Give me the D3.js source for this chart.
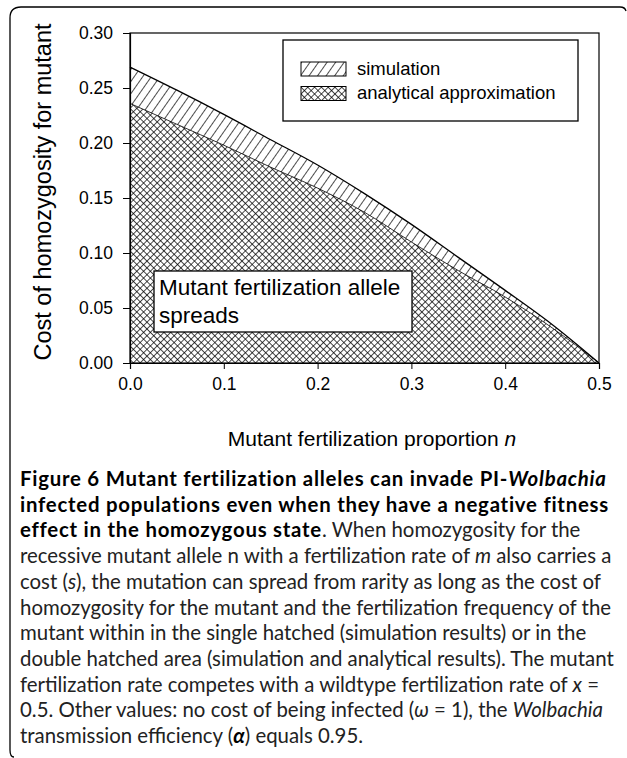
<!DOCTYPE html>
<html>
<head>
<meta charset="utf-8">
<script src="https://cdn.jsdelivr.net/npm/d3@7"></script>
<style>
  body { margin: 0; background: #fff; }
  svg { display: block; }
</style>
</head>
<body>
<div id="chart"></div>
<script>
// fertilization proportion n
const nValues = [0, 0.05, 0.10, 0.15, 0.20, 0.25, 0.30, 0.35, 0.40, 0.45, 0.50];
const simulation = [0.269, 0.248, 0.226, 0.203, 0.180, 0.154, 0.126, 0.096, 0.066, 0.035, 0];
const analytical = [0.236, 0.217, 0.198, 0.178, 0.159, 0.137, 0.110, 0.084, 0.060, 0.032, 0];
const xTicks = [0, 0.1, 0.2, 0.3, 0.4, 0.5];
const yTicks = [0, 0.05, 0.10, 0.15, 0.20, 0.25, 0.30];
const legendLabels = ['simulation', 'analytical approximation'];

const W = 627, H = 758;
const margin = {left: 130, top: 33, right: 28, bottom: 395};

const svg = d3.select('#chart').append('svg')
  .attr('width', W)
  .attr('height', H)

const defs = svg.append('defs')

// single hatch
const hatch = defs.append('pattern')
  .attr('id', 'hatch')
  .attr('patternUnits', 'userSpaceOnUse')
  .attr('width', 7).attr('height', 7)
  .attr('patternTransform', 'rotate(35)')
hatch.append('rect').attr('width', 7).attr('height', 7).attr('fill', '#fff')
hatch.append('line')
  .attr('x1', 0).attr('y1', 0).attr('x2', 0).attr('y2', 7)
  .attr('stroke', '#000').attr('stroke-width', 1.4)

// double hatch
const cross = defs.append('pattern')
  .attr('id', 'cross')
  .attr('patternUnits', 'userSpaceOnUse')
  .attr('width', 4.8).attr('height', 4.8)
  .attr('patternTransform', 'rotate(45)')
cross.append('rect').attr('width', 4.8).attr('height', 4.8).attr('fill', '#fff')
cross.append('path')
  .attr('d', 'M0,0H4.8M0,0V4.8')
  .attr('stroke', '#000').attr('stroke-width', 1.4)

// figure frame (rounded top-left / bottom-left)
svg.append('path')
  .attr('d', 'M14,757 Q10,757 10,750 L10,18 Q10,7 21,7 L620,7 Q625,7 626,11')
  .attr('fill', 'none')
  .attr('stroke', '#000')
  .attr('stroke-width', 1.3)

const g = svg.append('g')
  .attr('transform', 'translate(' + margin.left + ',' + margin.top + ')')

const width = W - margin.left - margin.right;   // 469
const height = H - margin.top - margin.bottom;  // 330

const x = d3.scaleLinear().domain([0, 0.5]).range([0, width])
const y = d3.scaleLinear().domain([0, 0.3]).range([height, 0])

const simData = nValues.map((n, i) => ({n: n, s: simulation[i]}))
const anaData = nValues.map((n, i) => ({n: n, s: analytical[i]}))

const area = d3.area()
  .curve(d3.curveMonotoneX)
  .x((d) => x(d.n))
  .y0(height)
  .y1((d) => y(d.s))

const line = d3.line()
  .curve(d3.curveMonotoneX)
  .x((d) => x(d.n))
  .y((d) => y(d.s))

g.append('path')
  .datum(simData)
  .attr('d', area)
  .attr('fill', 'url(#hatch)')

g.append('path')
  .datum(anaData)
  .attr('d', area)
  .attr('fill', 'url(#cross)')

g.append('path')
  .datum(simData)
  .attr('d', line)
  .attr('fill', 'none')
  .attr('stroke', '#000')
  .attr('stroke-width', 1.3)

g.append('path')
  .datum(anaData)
  .attr('d', line)
  .attr('fill', 'none')
  .attr('stroke', '#000')
  .attr('stroke-width', 0.8)

// plot frame
g.append('rect')
  .attr('width', width)
  .attr('height', height)
  .attr('fill', 'none')
  .attr('stroke', '#000')
  .attr('stroke-width', 1.2)

const xAxis = g.append('g')
  .attr('transform', 'translate(0,' + height + ')')
  .call(d3.axisBottom(x).tickValues(xTicks).tickFormat(d3.format('.1f')).tickSize(6).tickPadding(9))

const yAxis = g.append('g')
  .call(d3.axisLeft(y).tickValues(yTicks).tickFormat(d3.format('.2f')).tickSize(7).tickPadding(10))

;[xAxis, yAxis].forEach((ax) => {
  ax.select('.domain').attr('stroke-width', 1.2)
  ax.selectAll('.tick line').attr('stroke-width', 1)
  ax.selectAll('text')
    .attr('fill', '#000')
    .style('font-family', '"Liberation Sans", Arial, sans-serif')
    .style('font-size', '17.5px')
})

// axis titles
svg.append('text')
  .attr('transform', 'translate(51,' + 192 + ') rotate(-90)')
  .attr('text-anchor', 'middle')
  .style('font-family', '"Liberation Sans", Arial, sans-serif')
  .style('font-size', '23.5px')
  .text('Cost of homozygosity for mutant')

const xt = svg.append('text')
  .attr('x', 372)
  .attr('y', 446)
  .attr('text-anchor', 'middle')
  .style('font-family', '"Liberation Sans", Arial, sans-serif')
  .style('font-size', '21px')
xt.append('tspan').text('Mutant fertilization proportion ')
xt.append('tspan').style('font-style', 'italic').text('n')

// legend
const lg = svg.append('g')
lg.append('rect')
  .attr('x', 283).attr('y', 40).attr('width', 295).attr('height', 81)
  .attr('fill', '#fff').attr('stroke', '#000').attr('stroke-width', 1.3)

const legendItems = lg.selectAll('.item')
  .data(legendLabels)
  .enter().append('g')
  .attr('transform', (d, i) => 'translate(301,' + (62 + i * 24.5) + ')')

legendItems.append('rect')
  .attr('width', 45).attr('height', 14)
  .attr('fill', (d, i) => i === 0 ? 'url(#hatch)' : 'url(#cross)')
  .attr('stroke', '#000').attr('stroke-width', 1)

legendItems.append('text')
  .attr('x', 56).attr('y', 12.5)
  .style('font-family', '"Liberation Sans", Arial, sans-serif')
  .style('font-size', '18.5px')
  .text((d) => d)

// annotation
svg.append('rect')
  .attr('x', 154).attr('y', 271).attr('width', 258).attr('height', 61)
  .attr('fill', '#fff').attr('stroke', '#000').attr('stroke-width', 1.3)

const note = svg.append('text')
  .style('font-family', '"Liberation Sans", Arial, sans-serif')
  .style('font-size', '22.5px')
note.append('tspan').attr('x', 159).attr('y', 295).text('Mutant fertilization allele')
note.append('tspan').attr('x', 159).attr('y', 323).text('spreads')

// caption
const captionLines = [
  [['b', 'Figure 6 Mutant fertilization alleles can invade PI-'], ['bi', 'Wolbachia']],
  [['b', 'infected populations even when they have a negative fitness']],
  [['b', 'effect in the homozygous state'], ['', '. When homozygosity for the']],
  [['', 'recessive mutant allele n with a fertilization rate of '], ['i', 'm'], ['', ' also carries a']],
  [['', 'cost ('], ['i', 's'], ['', '), the mutation can spread from rarity as long as the cost of']],
  [['', 'homozygosity for the mutant and the fertilization frequency of the']],
  [['', 'mutant within in the single hatched (simulation results) or in the']],
  [['', 'double hatched area (simulation and analytical results). The mutant']],
  [['', 'fertilization rate competes with a wildtype fertilization rate of '], ['i', 'x'], ['', ' =']],
  [['', '0.5. Other values: no cost of being infected ('], ['i', '\u03C9'], ['', ' = 1), the '], ['i', 'Wolbachia']],
  [['', 'transmission efficiency ('], ['bi', '\u03B1'], ['', ') equals 0.95.']]
];

const cap = svg.append('g')
  .style('font-family', 'Lato, "Open Sans", sans-serif')
  .style('font-size', '20.4px')
  .attr('fill', '#222')

captionLines.forEach((parts, i) => {
  const t = cap.append('text')
    .attr('x', 20)
    .attr('y', 486 + i * 25.7)
  parts.forEach((p) => {
    const bold = p[0].includes('b') && i < 3
    t.append('tspan')
      .style('font-weight', p[0].includes('b') ? 'bold' : 'normal')
      .style('font-style', p[0].includes('i') ? 'italic' : 'normal')
      .style('letter-spacing', bold ? '0.75px' : null)
      .attr('fill', p[0].includes('b') ? '#000' : '#222')
      .text(p[1])
  })
})
</script>
</body>
</html>
